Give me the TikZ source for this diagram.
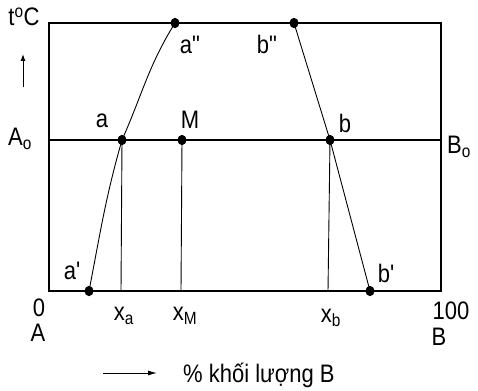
\documentclass[tikz,border=0pt]{standalone}
\usepackage{fontspec}
\setmainfont{Liberation Sans}
\usetikzlibrary{arrows.meta, positioning}

\begin{document}
\begin{tikzpicture}[x=1pt, y=-1pt,
    every node/.style={font=\fontsize{22}{26}\selectfont, inner sep=0pt, yscale=1.15},
    dot/.style={circle, fill=black, minimum size=9pt, inner sep=0pt},
    frame/.style={line width=1.3pt},
    curve/.style={line width=0.9pt}]
    \useasboundingbox (0,0) rectangle (478,390);

    % Frame
    \coordinate (O) at (49,291);
    \coordinate (C) at (441,291);
    \coordinate (Tl) at (49,23);
    \coordinate (Tr) at (441,23);
    \coordinate (Lm) at (49,140);
    \coordinate (Rm) at (441,140);
    \draw[frame] (Tl) -- (Tr) -- (C) -- (O) -- cycle;
    \draw[frame] (Lm) -- (Rm);

    % Points
    \node[dot] (a2) at (175,23) {};
    \node[dot] (b2) at (294,23) {};
    \node[dot] (a) at (122,140) {};
    \node[dot] (M) at (182,140) {};
    \node[dot] (b) at (330,140) {};
    \node[dot] (a1) at (89,291) {};
    \node[dot] (b1) at (370,291) {};

    % Curves
    \draw[curve] (a2.center) to[out=238, in=66] (a.center) to[out=254, in=79] (a1.center);
    \draw[curve] (b2.center) -- (b.center) -- (b1.center);

    % Compositions
    \coordinate (xa) at (121,291);
    \coordinate (xM) at (181,291);
    \coordinate (xb) at (328,291);
    \draw[curve] (a.center) -- (xa);
    \draw[curve] (M.center) -- (xM);
    \draw[curve] (b.center) -- (xb);

    % Point labels
    \node (la) at (102,121) {a};
    \node (lM) at (190,120) {M};
    \node (lb) at (345,123) {b};
    \node (la2) at (190,45) {a\textquotedbl};
    \node (lb2) at (267,44) {b\textquotedbl};
    \node (la1) at (72,271) {a\textquotesingle};
    \node (lb1) at (386,273) {b\textquotesingle};

    % Axes labels
    \node (t) at (24,17) {t\textsuperscript{o}C};
    \coordinate (t0) at (23,87);
    \coordinate (t1) at (23,54);
    \draw[line width=1pt, -{Latex[length=7pt, width=5pt]}] (t0) -- (t1);
    \node (Ao) at (20,139) {A\textsubscript{o}};
    \node (Bo) at (459,147) {B\textsubscript{o}};
    \node (zero) at (39,308) {0};
    \node (A) at (38,333) {A};
    \node (nxa) at (124,316) {x\textsubscript{a}};
    \node (nxM) at (185,316) {x\textsubscript{M}};
    \node (nxb) at (331,318) {x\textsubscript{b}};
    \node (hund) at (451,311) {100};
    \node (B) at (439,337) {B};

    % Bottom caption
    \coordinate (p0) at (103,373);
    \coordinate (p1) at (157,373);
    \draw[line width=1pt, -{Latex[length=9pt, width=5pt]}] (p0) -- (p1);
    \node[right] (cap) at (183,375) {\% khối lượng B};
\end{tikzpicture}
\end{document}
